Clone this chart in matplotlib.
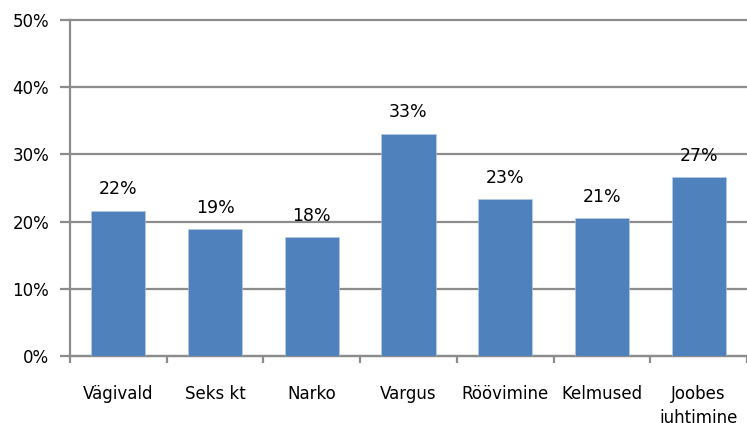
import numpy as np
import matplotlib
matplotlib.use('Agg')
import matplotlib.pyplot as plt
from matplotlib.ticker import FixedLocator, PercentFormatter

categories = ['Vägivald', 'Seks kt', 'Narko', 'Vargus', 'Röövimine', 'Kelmused', 'Joobes\njuhtimine']
values = [21.6, 18.85, 17.7, 33.1, 23.3, 20.5, 26.6]
bar_labels = ['22%', '19%', '18%', '33%', '23%', '21%', '27%']

plt.rcParams['font.family'] = ['DejaVu Sans']
grey = '#8c8c8c'

fig = plt.figure(figsize=(7.47, 4.23), dpi=100)
ax = fig.add_axes([0.0937, 0.1584, 0.9063, 0.7943])

x = np.arange(len(categories))
bars = ax.bar(x, values, width=0.56, color='#4F81BD', edgecolor='#b9cde5', linewidth=0.4, zorder=3)

for b, lab in zip(bars, bar_labels):
    ax.annotate(lab, (b.get_x() + b.get_width() / 2, b.get_height()),
                xytext=(0, 15.5), textcoords='offset points',
                ha='center', va='center', fontsize=12.5, color='black')

ax.set_ylim(0, 50)
ax.set_xlim(-0.5, len(categories) - 0.5)
ax.yaxis.set_major_locator(FixedLocator([0, 10, 20, 30, 40, 50]))
ax.yaxis.set_major_formatter(PercentFormatter(decimals=0))
ax.grid(axis='y', color=grey, linewidth=1.6, zorder=0)
for gl in ax.get_ygridlines():
    gl.set_clip_on(False)

# x ticks: marks at category boundaries, labels at centres
ax.set_xticks(np.arange(-0.5, len(categories)), labels=[''] * (len(categories) + 1))
ax.set_xticks(x, labels=categories, minor=True)
ax.tick_params(axis='x', which='major', length=5, width=1.6, color=grey, direction='out')
ax.tick_params(axis='x', which='minor', length=0, pad=21, labelsize=12)
ax.tick_params(axis='y', length=7, width=1.6, color=grey, labelsize=12, pad=8)

for lbl in ax.get_xticklabels(minor=True):
    lbl.set_linespacing(1.45)
    lbl.set_va('top')

for side in ['top', 'right']:
    ax.spines[side].set_visible(False)
for side in ['left', 'bottom']:
    ax.spines[side].set_color(grey)
    ax.spines[side].set_linewidth(1.6)

fig.savefig('out.png', dpi=100)
